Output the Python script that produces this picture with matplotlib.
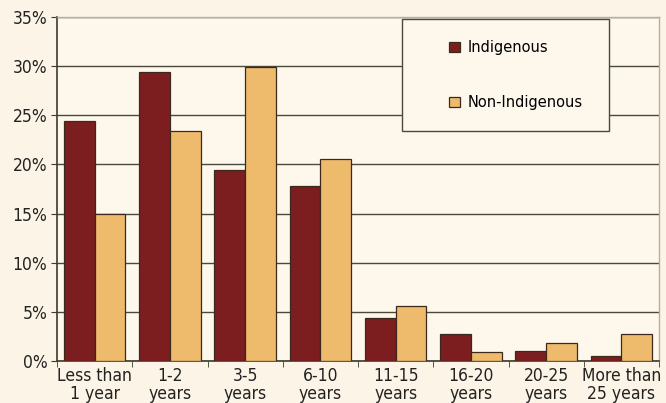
import numpy as np
import matplotlib
matplotlib.use("Agg")
from matplotlib import pyplot as plt
from matplotlib.patches import Rectangle

categories = ["Less than\n1 year", "1-2\nyears", "3-5\nyears", "6-10\nyears",
              "11-15\nyears", "16-20\nyears", "20-25\nyears", "More than\n25 years"]
indigenous = [24.4, 29.4, 19.4, 17.8, 4.4, 2.7, 1.0, 0.5]
non_indigenous = [14.95, 23.4, 29.9, 20.6, 5.6, 0.9, 1.8, 2.7]
yticks = [0, 5, 10, 15, 20, 25, 30, 35]

bg = "#fcf4e6"
plt.rcParams["font.family"] = ["DejaVu Sans"]
plt.rcParams["font.stretch"] = "condensed"

fig = plt.figure(figsize=(6.66, 4.03), dpi=100, facecolor=bg)
ax = fig.add_axes([57/666, 1-361/403, (659-57)/666, (361-17)/403])
ax.set_facecolor("#fdf7ec")

x = np.arange(len(categories))
w = 0.41
ax.bar(x - w/2, indigenous, w, color="#7c1d20", edgecolor="#3b2a1c", linewidth=0.9,
       label="Indigenous", zorder=3)
ax.bar(x + w/2, non_indigenous, w, color="#eebb6c", edgecolor="#3b2a1c", linewidth=0.9,
       label="Non-Indigenous", zorder=3)

ax.set_xlim(-0.5, len(categories) - 0.5)
ax.set_ylim(0, 35)
ax.set_yticks(yticks)
ax.set_yticklabels([f"{v}%" for v in yticks], fontsize=12.5, color="#222222")
ax.yaxis.grid(True, color="#4a4a3c", linewidth=1.0, zorder=0)

ax.set_xticks(x)
ax.set_xticklabels(categories, fontsize=12.5, color="#222222", linespacing=1.05)
ax.set_xticks(np.arange(-0.5, len(categories)), minor=True)
ax.tick_params(axis="x", which="major", length=0, pad=4)
ax.tick_params(axis="x", which="minor", length=4, color="#3b3b30")
ax.tick_params(axis="y", length=4, color="#3b3b30", pad=3)

for s in ["left", "bottom"]:
    ax.spines[s].set_color("#3b3b30")
    ax.spines[s].set_linewidth(1.2)
for s in ["top", "right"]:
    ax.spines[s].set_color("#b5b0a4")
    ax.spines[s].set_linewidth(1.0)

# legend box drawn by hand so the padding can be uneven
bx0, by0 = (402-57)/602, (361-131)/344
ax.add_patch(Rectangle((bx0, by0), (609-402)/602, (131-19)/344, transform=ax.transAxes,
                       facecolor="#fdf7ec", edgecolor="#4a4a3c", linewidth=1.0, zorder=5))
leg = ax.legend(loc="upper left", bbox_to_anchor=((449-57)/602, (361-40)/344),
                frameon=False, prop={"size": 10.5, "stretch": "normal"},
                handlelength=0.75, handleheight=0.75, labelspacing=2.75,
                borderpad=0, handletextpad=0.55, borderaxespad=0)
leg.set_zorder(6)

fig.savefig("out.png", dpi=100, facecolor=bg)
